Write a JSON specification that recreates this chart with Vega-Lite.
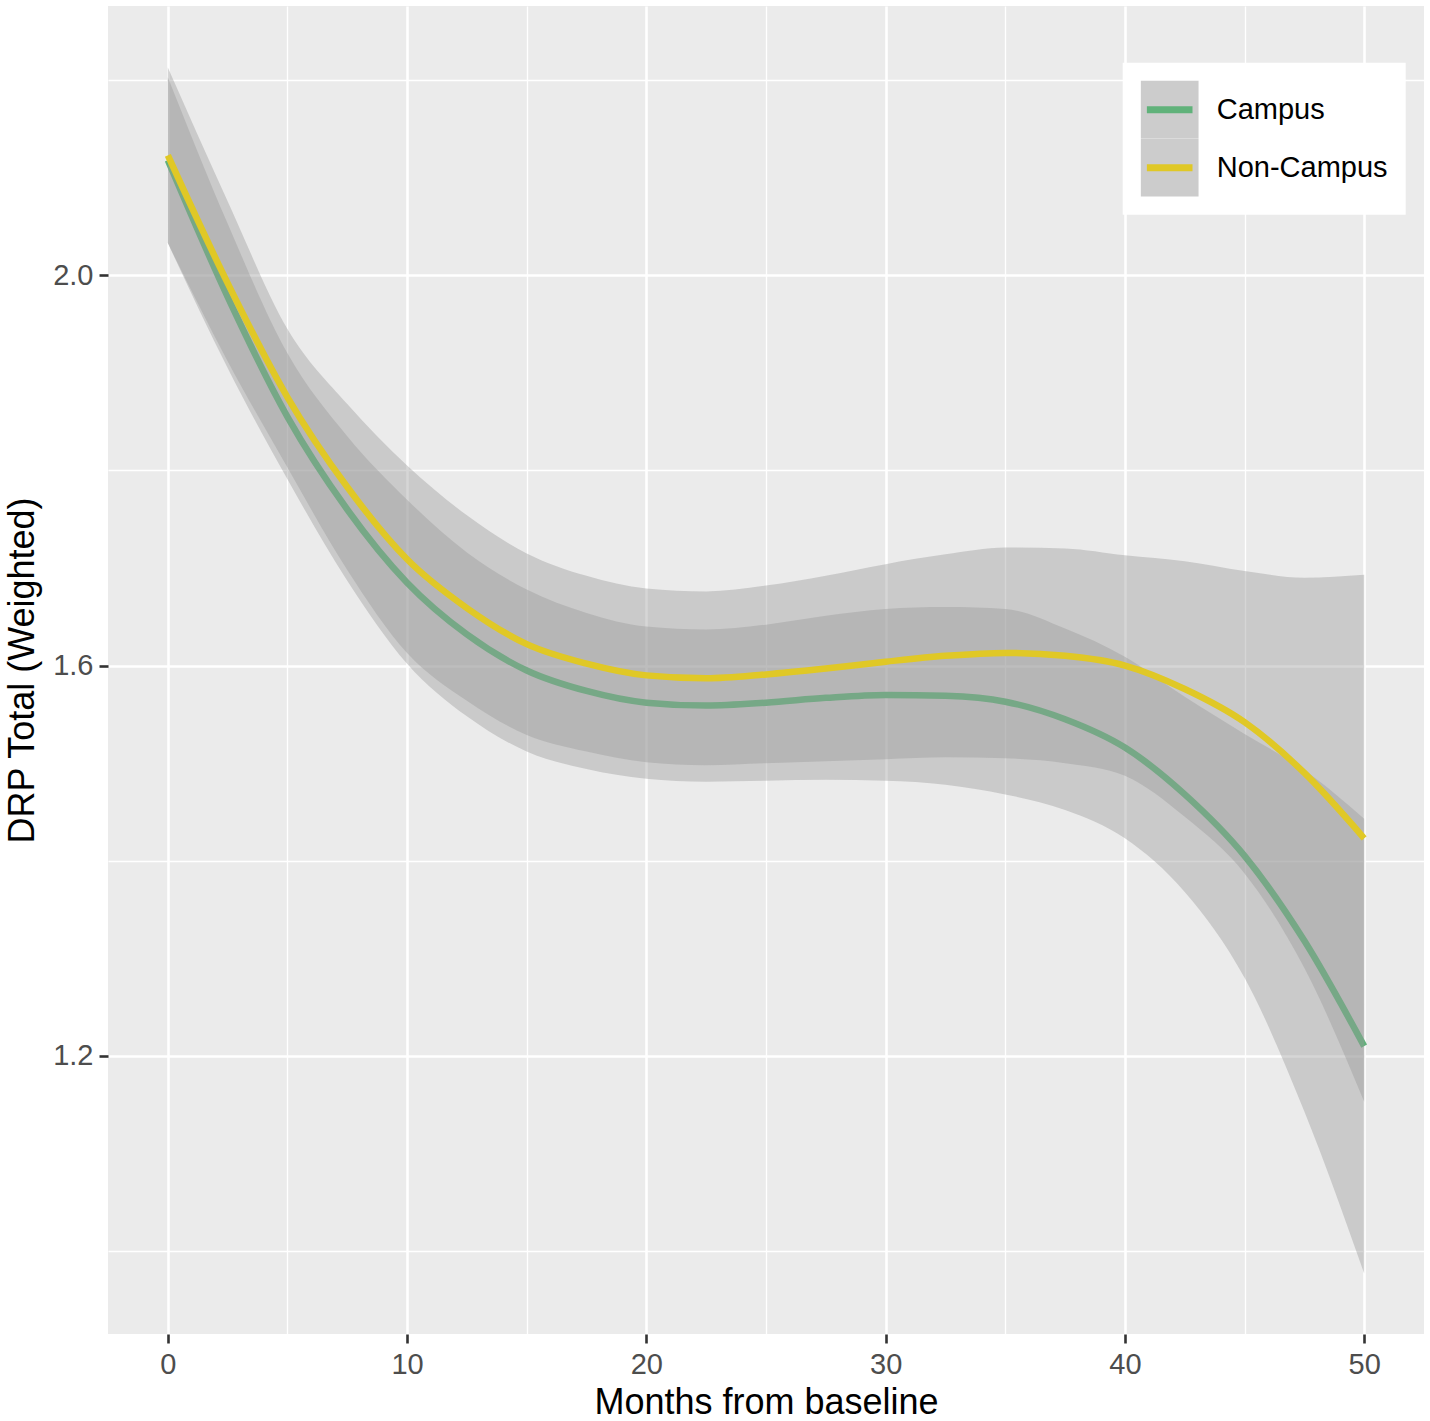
{
  "$schema": "https://vega.github.io/schema/vega-lite/v6.json",
  "width": 1316,
  "height": 1328,
  "autosize": "none",
  "padding": {"left": 108, "top": 6, "right": 6, "bottom": 87},
  "background": "white",
  "config": {
    "font": "Liberation Sans",
    "view": {"fill": "#EBEBEB", "stroke": null}
  },
  "data": {
    "values": [
      {"group": "Campus", "month": 0, "fit": 2.118, "lo": 2.033, "hi": 2.203},
      {"group": "Campus", "month": 2.5, "fit": 1.978, "lo": 1.905, "hi": 2.053},
      {"group": "Campus", "month": 5, "fit": 1.855, "lo": 1.791, "hi": 1.920},
      {"group": "Campus", "month": 7.5, "fit": 1.760, "lo": 1.687, "hi": 1.835},
      {"group": "Campus", "month": 10, "fit": 1.685, "lo": 1.602, "hi": 1.770},
      {"group": "Campus", "month": 12.5, "fit": 1.632, "lo": 1.548, "hi": 1.716},
      {"group": "Campus", "month": 15, "fit": 1.595, "lo": 1.512, "hi": 1.678},
      {"group": "Campus", "month": 17.5, "fit": 1.574, "lo": 1.494, "hi": 1.654},
      {"group": "Campus", "month": 20, "fit": 1.562, "lo": 1.484, "hi": 1.640},
      {"group": "Campus", "month": 22.5, "fit": 1.559, "lo": 1.481, "hi": 1.637},
      {"group": "Campus", "month": 25, "fit": 1.562, "lo": 1.482, "hi": 1.642},
      {"group": "Campus", "month": 27.5, "fit": 1.567, "lo": 1.483, "hi": 1.651},
      {"group": "Campus", "month": 30, "fit": 1.570, "lo": 1.482, "hi": 1.658},
      {"group": "Campus", "month": 32.5, "fit": 1.569, "lo": 1.478, "hi": 1.660},
      {"group": "Campus", "month": 35, "fit": 1.563, "lo": 1.468, "hi": 1.658},
      {"group": "Campus", "month": 37.5, "fit": 1.545, "lo": 1.452, "hi": 1.638},
      {"group": "Campus", "month": 40, "fit": 1.516, "lo": 1.423, "hi": 1.609},
      {"group": "Campus", "month": 42.5, "fit": 1.468, "lo": 1.368, "hi": 1.568},
      {"group": "Campus", "month": 45, "fit": 1.405, "lo": 1.280, "hi": 1.530},
      {"group": "Campus", "month": 47.5, "fit": 1.318, "lo": 1.143, "hi": 1.493},
      {"group": "Campus", "month": 50, "fit": 1.210, "lo": 0.977, "hi": 1.443},
      {"group": "Non-Campus", "month": 0, "fit": 2.123, "lo": 2.033, "hi": 2.213},
      {"group": "Non-Campus", "month": 2.5, "fit": 1.992, "lo": 1.912, "hi": 2.076},
      {"group": "Non-Campus", "month": 5, "fit": 1.875, "lo": 1.803, "hi": 1.945},
      {"group": "Non-Campus", "month": 7.5, "fit": 1.783, "lo": 1.698, "hi": 1.868},
      {"group": "Non-Campus", "month": 10, "fit": 1.709, "lo": 1.613, "hi": 1.805},
      {"group": "Non-Campus", "month": 12.5, "fit": 1.659, "lo": 1.564, "hi": 1.754},
      {"group": "Non-Campus", "month": 15, "fit": 1.622, "lo": 1.529, "hi": 1.715},
      {"group": "Non-Campus", "month": 17.5, "fit": 1.602, "lo": 1.512, "hi": 1.692},
      {"group": "Non-Campus", "month": 20, "fit": 1.590, "lo": 1.501, "hi": 1.679},
      {"group": "Non-Campus", "month": 22.5, "fit": 1.587, "lo": 1.498, "hi": 1.676},
      {"group": "Non-Campus", "month": 25, "fit": 1.591, "lo": 1.500, "hi": 1.682},
      {"group": "Non-Campus", "month": 27.5, "fit": 1.597, "lo": 1.502, "hi": 1.692},
      {"group": "Non-Campus", "month": 30, "fit": 1.604, "lo": 1.504, "hi": 1.704},
      {"group": "Non-Campus", "month": 32.5, "fit": 1.610, "lo": 1.506, "hi": 1.714},
      {"group": "Non-Campus", "month": 35, "fit": 1.613, "lo": 1.505, "hi": 1.721},
      {"group": "Non-Campus", "month": 37.5, "fit": 1.610, "lo": 1.500, "hi": 1.720},
      {"group": "Non-Campus", "month": 40, "fit": 1.600, "lo": 1.487, "hi": 1.713},
      {"group": "Non-Campus", "month": 42.5, "fit": 1.576, "lo": 1.445, "hi": 1.707},
      {"group": "Non-Campus", "month": 45, "fit": 1.542, "lo": 1.387, "hi": 1.697},
      {"group": "Non-Campus", "month": 47.5, "fit": 1.490, "lo": 1.290, "hi": 1.690},
      {"group": "Non-Campus", "month": 50, "fit": 1.423, "lo": 1.153, "hi": 1.693}
    ]
  },
  "encoding": {
    "x": {
      "field": "month",
      "type": "quantitative",
      "scale": {"domain": [-2.5, 52.5], "nice": false, "zero": false},
      "axis": {
        "title": "Months from baseline",
        "titleFontSize": 36,
        "titleFontWeight": "normal",
        "titleColor": "black",
        "titleBaseline": "alphabetic",
        "titleY": 79,
        "values": [0, 5, 10, 15, 20, 25, 30, 35, 40, 45, 50],
        "labelExpr": "datum.value % 10 === 0 ? datum.label : ''",
        "labelFontSize": 29,
        "labelColor": "#4D4D4D",
        "labelPadding": 7,
        "labelOverlap": false,
        "labelFlush": false,
        "tickSize": 9,
        "tickWidth": 2.6,
        "tickColor": "#333333",
        "tickOpacity": {"condition": {"test": "datum.value % 10 === 0", "value": 1}, "value": 0},
        "grid": true,
        "gridColor": "white",
        "gridWidth": {"condition": {"test": "datum.value % 10 === 0", "value": 2.6}, "value": 1.3},
        "domain": false
      }
    }
  },
  "layer": [
    {
      "transform": [{"filter": "datum.group === 'Campus'"}],
      "mark": {"type": "area", "interpolate": "monotone", "opacity": 0.4},
      "encoding": {
        "y": {
          "field": "lo",
          "type": "quantitative",
          "scale": {"domain": [0.915, 2.276], "nice": false, "zero": false},
          "axis": {
            "title": "DRP Total (Weighted)",
            "titleFontSize": 36,
            "titleFontWeight": "normal",
            "titleColor": "black",
            "titleBaseline": "alphabetic",
            "titleAngle": 270,
            "titleX": -75,
            "titleY": 664,
            "values": [1.0, 1.2, 1.4, 1.6, 1.8, 2.0, 2.2],
            "labelExpr": "round(datum.value * 10) % 4 === 0 ? format(datum.value, '.1f') : ''",
            "labelFontSize": 29,
            "labelColor": "#4D4D4D",
            "labelPadding": 6,
            "labelOverlap": false,
            "labelFlush": false,
            "tickSize": 9,
            "tickWidth": 2.6,
            "tickColor": "#333333",
            "tickOpacity": {"condition": {"test": "round(datum.value * 10) % 4 === 0", "value": 1}, "value": 0},
            "grid": true,
            "gridColor": "white",
            "gridWidth": {"condition": {"test": "round(datum.value * 10) % 4 === 0", "value": 2.6}, "value": 1.3},
            "domain": false
          }
        },
        "y2": {"field": "hi"},
        "fill": {
          "field": "group",
          "type": "nominal",
          "scale": {"domain": ["Campus", "Non-Campus"], "range": ["#999999", "#999999"]},
          "legend": {
            "orient": "none", "legendX": 1014.7, "legendY": 56.7, "title": null,
            "symbolType": "square", "symbolSize": 3329, "symbolStrokeWidth": 0,
            "symbolOpacity": 0.5,
            "labelFontSize": 29, "labelOpacity": 0, "labelOffset": 18, "labelLimit": 400,
            "rowPadding": 0, "padding": 18, "fillColor": "white"
          }
        }
      }
    },
    {
      "transform": [{"filter": "datum.group === 'Campus'"}],
      "mark": {"type": "line", "interpolate": "monotone", "strokeWidth": 6.5},
      "encoding": {
        "y": {
          "field": "fit",
          "type": "quantitative",
          "scale": {"domain": [0.915, 2.276], "nice": false, "zero": false},
          "axis": {
            "title": "DRP Total (Weighted)",
            "titleFontSize": 36,
            "titleFontWeight": "normal",
            "titleColor": "black",
            "titleBaseline": "alphabetic",
            "titleAngle": 270,
            "titleX": -75,
            "titleY": 664,
            "values": [1.0, 1.2, 1.4, 1.6, 1.8, 2.0, 2.2],
            "labelExpr": "round(datum.value * 10) % 4 === 0 ? format(datum.value, '.1f') : ''",
            "labelFontSize": 29,
            "labelColor": "#4D4D4D",
            "labelPadding": 6,
            "labelOverlap": false,
            "labelFlush": false,
            "tickSize": 9,
            "tickWidth": 2.6,
            "tickColor": "#333333",
            "tickOpacity": {"condition": {"test": "round(datum.value * 10) % 4 === 0", "value": 1}, "value": 0},
            "grid": true,
            "gridColor": "white",
            "gridWidth": {"condition": {"test": "round(datum.value * 10) % 4 === 0", "value": 2.6}, "value": 1.3},
            "domain": false
          }
        },
        "stroke": {
          "field": "group",
          "type": "nominal",
          "scale": {"range": ["#60B27A", "#E0C826"]},
          "legend": {
            "orient": "none", "legendX": 1014.7, "legendY": 56.7, "title": null,
            "symbolType": "M-0.9,0H0.9", "symbolSize": 2570, "symbolStrokeWidth": 7, "symbolOpacity": 1,
            "labelFontSize": 29, "labelColor": "black", "labelOffset": 18, "labelLimit": 400,
            "rowPadding": 14, "padding": 18
          }
        }
      }
    },
    {
      "transform": [{"filter": "datum.group === 'Non-Campus'"}],
      "mark": {"type": "area", "interpolate": "monotone", "opacity": 0.4},
      "encoding": {
        "y": {
          "field": "lo",
          "type": "quantitative",
          "scale": {"domain": [0.915, 2.276], "nice": false, "zero": false},
          "axis": {
            "title": "DRP Total (Weighted)",
            "titleFontSize": 36,
            "titleFontWeight": "normal",
            "titleColor": "black",
            "titleBaseline": "alphabetic",
            "titleAngle": 270,
            "titleX": -75,
            "titleY": 664,
            "values": [1.0, 1.2, 1.4, 1.6, 1.8, 2.0, 2.2],
            "labelExpr": "round(datum.value * 10) % 4 === 0 ? format(datum.value, '.1f') : ''",
            "labelFontSize": 29,
            "labelColor": "#4D4D4D",
            "labelPadding": 6,
            "labelOverlap": false,
            "labelFlush": false,
            "tickSize": 9,
            "tickWidth": 2.6,
            "tickColor": "#333333",
            "tickOpacity": {"condition": {"test": "round(datum.value * 10) % 4 === 0", "value": 1}, "value": 0},
            "grid": true,
            "gridColor": "white",
            "gridWidth": {"condition": {"test": "round(datum.value * 10) % 4 === 0", "value": 2.6}, "value": 1.3},
            "domain": false
          }
        },
        "y2": {"field": "hi"},
        "fill": {
          "field": "group",
          "type": "nominal",
          "scale": {"domain": ["Campus", "Non-Campus"], "range": ["#999999", "#999999"]},
          "legend": {
            "orient": "none", "legendX": 1014.7, "legendY": 56.7, "title": null,
            "symbolType": "square", "symbolSize": 3329, "symbolStrokeWidth": 0,
            "symbolOpacity": 0.5,
            "labelFontSize": 29, "labelOpacity": 0, "labelOffset": 18, "labelLimit": 400,
            "rowPadding": 0, "padding": 18, "fillColor": "white"
          }
        }
      }
    },
    {
      "transform": [{"filter": "datum.group === 'Non-Campus'"}],
      "mark": {"type": "line", "interpolate": "monotone", "strokeWidth": 6.5},
      "encoding": {
        "y": {
          "field": "fit",
          "type": "quantitative",
          "scale": {"domain": [0.915, 2.276], "nice": false, "zero": false},
          "axis": {
            "title": "DRP Total (Weighted)",
            "titleFontSize": 36,
            "titleFontWeight": "normal",
            "titleColor": "black",
            "titleBaseline": "alphabetic",
            "titleAngle": 270,
            "titleX": -75,
            "titleY": 664,
            "values": [1.0, 1.2, 1.4, 1.6, 1.8, 2.0, 2.2],
            "labelExpr": "round(datum.value * 10) % 4 === 0 ? format(datum.value, '.1f') : ''",
            "labelFontSize": 29,
            "labelColor": "#4D4D4D",
            "labelPadding": 6,
            "labelOverlap": false,
            "labelFlush": false,
            "tickSize": 9,
            "tickWidth": 2.6,
            "tickColor": "#333333",
            "tickOpacity": {"condition": {"test": "round(datum.value * 10) % 4 === 0", "value": 1}, "value": 0},
            "grid": true,
            "gridColor": "white",
            "gridWidth": {"condition": {"test": "round(datum.value * 10) % 4 === 0", "value": 2.6}, "value": 1.3},
            "domain": false
          }
        },
        "stroke": {
          "field": "group",
          "type": "nominal",
          "scale": {"range": ["#60B27A", "#E0C826"]},
          "legend": {
            "orient": "none", "legendX": 1014.7, "legendY": 56.7, "title": null,
            "symbolType": "M-0.9,0H0.9", "symbolSize": 2570, "symbolStrokeWidth": 7, "symbolOpacity": 1,
            "labelFontSize": 29, "labelColor": "black", "labelOffset": 18, "labelLimit": 400,
            "rowPadding": 14, "padding": 18
          }
        }
      }
    }
  ]
}
